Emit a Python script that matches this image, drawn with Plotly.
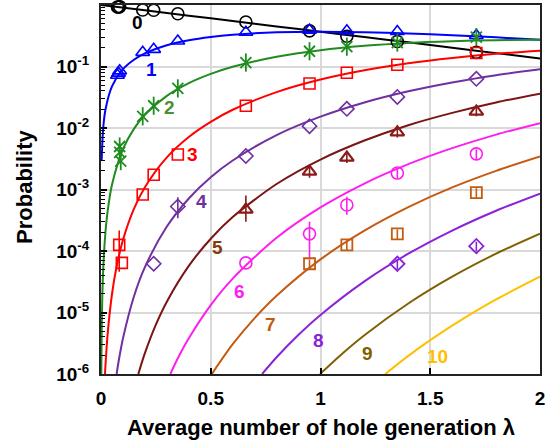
import plotly.graph_objects as go

# ---------------- curve values ----------------
n0_lam = [0.0, 0.2, 0.4, 0.6, 0.8, 1.0, 1.2, 1.4, 1.6, 1.8, 2.0]
n0_p = [1.0, 0.819, 0.670, 0.549, 0.449, 0.368, 0.301, 0.247, 0.202, 0.165, 0.135]

n1_lam = [0.003, 0.01, 0.02, 0.05, 0.1, 0.15, 0.2, 0.3, 0.4, 0.5, 0.6, 0.8, 1.0, 1.2, 1.4, 1.6, 1.8, 2.0]
n1_p = [0.00299, 0.0099, 0.0196, 0.0476, 0.0905, 0.129, 0.164, 0.222, 0.268, 0.303, 0.329, 0.360, 0.368, 0.361, 0.345, 0.323, 0.298, 0.271]

n2_lam = [0.0014, 0.002, 0.005, 0.01, 0.02, 0.03, 0.05, 0.1, 0.15, 0.2, 0.3, 0.4, 0.5, 0.6, 0.8, 1.0, 1.2, 1.4, 1.6, 1.8, 2.0]
n2_p = [1e-6, 2e-6, 1.24e-5, 4.95e-5, 1.96e-4, 4.37e-4, 1.19e-3, 4.52e-3, 9.68e-3, 0.0164, 0.0333, 0.0536, 0.0758, 0.0988, 0.144, 0.184, 0.217, 0.242, 0.258, 0.268, 0.271]

n3_lam = [0.0183, 0.02, 0.03, 0.05, 0.07, 0.1, 0.15, 0.2, 0.3, 0.4, 0.5, 0.6, 0.8, 1.0, 1.2, 1.4, 1.6, 1.8, 2.0]
n3_p = [1e-6, 1.31e-6, 4.37e-6, 1.98e-5, 5.33e-5, 1.51e-4, 4.84e-4, 1.09e-3, 3.33e-3, 7.15e-3, 0.0126, 0.0198, 0.0383, 0.0613, 0.0867, 0.113, 0.138, 0.161, 0.180]

n4_lam = [0.0712, 0.08, 0.1, 0.15, 0.2, 0.3, 0.4, 0.5, 0.6, 0.8, 1.0, 1.2, 1.4, 1.6, 1.8, 2.0]
n4_p = [1e-6, 1.58e-6, 3.77e-6, 1.82e-5, 5.46e-5, 2.50e-4, 7.15e-4, 1.58e-3, 2.96e-3, 7.67e-3, 0.0153, 0.0260, 0.0395, 0.0551, 0.0723, 0.0902]

n5_lam = [0.170, 0.2, 0.25, 0.3, 0.4, 0.5, 0.6, 0.8, 1.0, 1.2, 1.4, 1.6, 1.8, 2.0]
n5_p = [1e-6, 2.18e-6, 6.34e-6, 1.50e-5, 5.72e-5, 1.58e-4, 3.56e-4, 1.23e-3, 3.07e-3, 6.25e-3, 0.0111, 0.0176, 0.0260, 0.0361]

n6_lam = [0.316, 0.35, 0.4, 0.5, 0.6, 0.8, 1.0, 1.2, 1.4, 1.6, 1.8, 2.0]
n6_p = [1e-6, 1.80e-6, 3.81e-6, 1.32e-5, 3.56e-5, 1.64e-4, 5.11e-4, 1.25e-3, 2.58e-3, 4.70e-3, 7.81e-3, 0.0120]

n7_lam = [0.505, 0.6, 0.7, 0.8, 1.0, 1.2, 1.4, 1.6, 1.8, 2.0]
n7_p = [1e-6, 3.05e-6, 8.11e-6, 1.87e-5, 7.30e-5, 2.14e-4, 5.16e-4, 1.08e-3, 2.01e-3, 3.44e-3]

n8_lam = [0.734, 0.8, 0.9, 1.0, 1.2, 1.4, 1.6, 1.8, 2.0]
n8_p = [1e-6, 1.87e-6, 4.34e-6, 9.12e-6, 3.21e-5, 9.03e-5, 2.15e-4, 4.52e-4, 8.59e-4]

n9_lam = [0.998, 1.1, 1.2, 1.4, 1.6, 1.8, 2.0]
n9_p = [1e-6, 2.16e-6, 4.28e-6, 1.40e-5, 3.82e-5, 9.04e-5, 1.91e-4]

n10_lam = [1.295, 1.4, 1.5, 1.6, 1.8, 2.0]
n10_p = [1e-6, 1.97e-6, 3.55e-6, 6.12e-6, 1.63e-5, 3.82e-5]

# ---------------- measured points ----------------
exp0_lam = [0.075, 0.08, 0.085, 0.19, 0.24, 0.35, 0.66, 0.95, 1.12, 1.35, 1.71]
exp0_p = [0.93, 0.92, 0.94, 0.83, 0.82, 0.72, 0.53, 0.38, 0.31, 0.255, 0.17]

exp1_lam = [0.075, 0.08, 0.085, 0.19, 0.24, 0.35, 0.66, 0.95, 1.12, 1.35, 1.71]
exp1_p = [0.072, 0.078, 0.085, 0.17, 0.19, 0.26, 0.36, 0.39, 0.38, 0.37, 0.32]

exp2_lam = [0.085, 0.085, 0.09, 0.19, 0.24, 0.35, 0.66, 0.95, 1.12, 1.35, 1.71]
exp2_p = [0.005, 0.004, 0.0029, 0.0155, 0.023, 0.044, 0.116, 0.177, 0.21, 0.245, 0.30]

exp3_lam = [0.083, 0.095, 0.19, 0.24, 0.35, 0.66, 0.95, 1.12, 1.35, 1.71]
exp3_p = [1.26e-4, 6.4e-5, 8.3e-4, 1.74e-3, 3.7e-3, 0.023, 0.053, 0.079, 0.107, 0.166]
exp3_err_plus = [9e-5, 0, 0, 0, 0, 0, 0, 0, 0, 0]
exp3_err_minus = [8e-5, 0, 0, 0, 0, 0, 0, 0, 0, 0]

exp4_lam = [0.24, 0.35, 0.66, 0.95, 1.12, 1.35, 1.71]
exp4_p = [6.2e-5, 5.3e-4, 3.5e-3, 0.0107, 0.0205, 0.032, 0.063]
exp4_err_plus = [0, 2.2e-4, 0, 0, 0, 0, 0]
exp4_err_minus = [0, 1.9e-4, 0, 0, 0, 0, 0]

exp5_lam = [0.66, 0.95, 1.12, 1.35, 1.71]
exp5_p = [4.7e-4, 1.95e-3, 3.3e-3, 8.5e-3, 0.0185]
exp5_err_plus = [3.3e-4, 4e-4, 6e-4, 1.5e-3, 3e-3]
exp5_err_minus = [1.7e-4, 4e-4, 6e-4, 1.5e-3, 3e-3]

exp6_lam = [0.66, 0.95, 1.12, 1.35, 1.71]
exp6_p = [6.4e-5, 1.9e-4, 5.6e-4, 1.85e-3, 3.8e-3]
exp6_err_plus = [0, 1.1e-4, 2e-4, 3.5e-4, 7e-4]
exp6_err_minus = [0, 1.13e-4, 1.7e-4, 3.5e-4, 7e-4]

exp7_lam = [0.95, 1.12, 1.35, 1.71]
exp7_p = [6.2e-5, 1.26e-4, 1.9e-4, 8.9e-4]
exp7_err = [1.1e-5, 2.3e-5, 3.5e-5, 1.6e-4]

exp8_lam = [1.35, 1.71]
exp8_p = [6.2e-5, 1.2e-4]
exp8_err = [1.2e-5, 2.2e-5]

curve_names = ["0", "1", "2", "3", "4", "5", "6", "7", "8", "9", "10"]
y_tickvals = [1, 1e-1, 1e-2, 1e-3, 1e-4, 1e-5, 1e-6]
y_ticktext = ["1", "10<sup>-1</sup>", "10<sup>-2</sup>", "10<sup>-3</sup>",
              "10<sup>-4</sup>", "10<sup>-5</sup>", "10<sup>-6</sup>"]
x_tickvals = [0, 0.5, 1, 1.5, 2]
x_ticktext = ["0", "0.5", "1", "1.5", "2"]

line_colors = ["#000000", "#0000FF", "#1E8C1E", "#FF0000", "#7030A0", "#7B1414",
               "#FF1EF0", "#C55A11", "#8A22D8", "#806000", "#FFC000"]
label_colors = ["#000000", "#0000FF", "#4E8F35", "#FF0000", "#7030A0", "#843C0C",
                "#FF1EF0", "#C55A11", "#8A22D8", "#806000", "#FFC000"]

FONT = "Arial, 'Liberation Sans', sans-serif"

fig = go.Figure()

curves = [(n0_lam, n0_p), (n1_lam, n1_p), (n2_lam, n2_p), (n3_lam, n3_p), (n4_lam, n4_p),
          (n5_lam, n5_p), (n6_lam, n6_p), (n7_lam, n7_p), (n8_lam, n8_p), (n9_lam, n9_p),
          (n10_lam, n10_p)]
for i, (lx, ly) in enumerate(curves):
    fig.add_trace(go.Scatter(x=lx, y=ly, mode="lines", name=curve_names[i],
                             line=dict(color=line_colors[i], width=2, shape="spline", smoothing=0.8),
                             showlegend=False, hoverinfo="skip"))


def add_points(lx, ly, color, symbol, size=11, width=1.6, eplus=None, eminus=None):
    err = None
    if eplus is not None:
        err = dict(type="data", symmetric=False, array=eplus,
                   arrayminus=eminus if eminus is not None else eplus,
                   color=color, thickness=1.6, width=0, visible=True)
    fig.add_trace(go.Scatter(x=lx, y=ly, mode="markers", cliponaxis=False,
                             marker=dict(symbol=symbol, size=size, color=color,
                                         line=dict(color=color, width=width)),
                             error_y=err, showlegend=False))


add_points(exp0_lam, exp0_p, "#000000", "circle-open", 12)
add_points(exp1_lam, exp1_p, "#0000FF", "triangle-up-open", 12)
# six-armed star: an x plus a vertical stroke
add_points(exp2_lam, exp2_p, "#1E8C1E", "x-thin-open", 11, 1.8)
add_points(exp2_lam, exp2_p, "#1E8C1E", "line-ns-open", 13, 1.8)
add_points(exp3_lam, exp3_p, "#FF0000", "square-open", 11, 1.6, exp3_err_plus, exp3_err_minus)
add_points(exp4_lam, exp4_p, "#7030A0", "diamond-open", 11, 1.6, exp4_err_plus, exp4_err_minus)
add_points(exp5_lam, exp5_p, "#8B1A1A", "triangle-up-open", 12, 2.2, exp5_err_plus, exp5_err_minus)
add_points(exp6_lam, exp6_p, "#FF1EF0", "circle-open", 12, 1.6, exp6_err_plus, exp6_err_minus)
add_points(exp7_lam, exp7_p, "#C55A11", "square-open", 11, 1.8, exp7_err, exp7_err)
add_points(exp8_lam, exp8_p, "#8A22D8", "diamond-open", 11, 1.8, exp8_err, exp8_err)

# curve number labels (lambda, log10 P)
label_pos = [(0.164, -0.28), (0.228, -1.05), (0.31, -1.67), (0.415, -2.43), (0.46, -3.20),
             (0.533, -3.95), (0.633, -4.66), (0.77, -5.20), (0.989, -5.45), (1.212, -5.66),
             (1.531, -5.72)]
for i, (lx, ly) in enumerate(label_pos):
    fig.add_annotation(x=lx, y=ly, xref="x", yref="y", text="<b>%s</b>" % curve_names[i],
                       showarrow=False, font=dict(family=FONT, size=19, color=label_colors[i]),
                       xanchor="center", yanchor="middle")

fig.add_annotation(x=-0.173, y=0.507, xref="paper", yref="paper", text="<b>Probability</b>",
                   textangle=-90, showarrow=False, font=dict(family=FONT, size=22, color="black"),
                   xanchor="center", yanchor="middle")
fig.add_annotation(x=0.5, y=-0.146, xref="paper", yref="paper",
                   text="<b>Average number of hole generation \u03bb</b>",
                   showarrow=False, font=dict(family=FONT, size=22, color="black"),
                   xanchor="center", yanchor="middle")

fig.update_layout(
    width=553, height=446,
    margin=dict(l=101, r=13, t=5, b=72, autoexpand=False),
    plot_bgcolor="white", paper_bgcolor="white",
    font=dict(family=FONT, color="black"),
    xaxis=dict(range=[0, 2], tickvals=x_tickvals, ticktext=["<b>%s</b>" % t for t in x_ticktext],
               tickfont=dict(size=19, family=FONT, color="black"), automargin=False,
               ticks="inside", ticklen=6, tickwidth=1.5, tickcolor="black",
               showline=True, linecolor="#222222", linewidth=2, mirror=True,
               showgrid=True, gridcolor="#D9D9D9", gridwidth=1.5, zeroline=False,
               ticklabelstandoff=6),
    yaxis=dict(type="log", range=[-6, 0], tickvals=y_tickvals,
               ticktext=["<b>%s</b>" % t for t in y_ticktext],
               tickfont=dict(size=19, family=FONT, color="black"), automargin=False,
               ticks="inside", ticklen=6, tickwidth=1.5, tickcolor="black",
               minor=dict(ticks="inside", ticklen=4, tickcolor="black", tickwidth=1,
                          dtick="D1", showgrid=False),
               showline=True, linecolor="#222222", linewidth=2, mirror=True,
               showgrid=True, gridcolor="#D9D9D9", gridwidth=1.5, zeroline=False,
               ticklabelstandoff=6),
)

fig.write_html("out.html", config={"displayModeBar": False},
               post_script="document.body.style.margin='0';")
